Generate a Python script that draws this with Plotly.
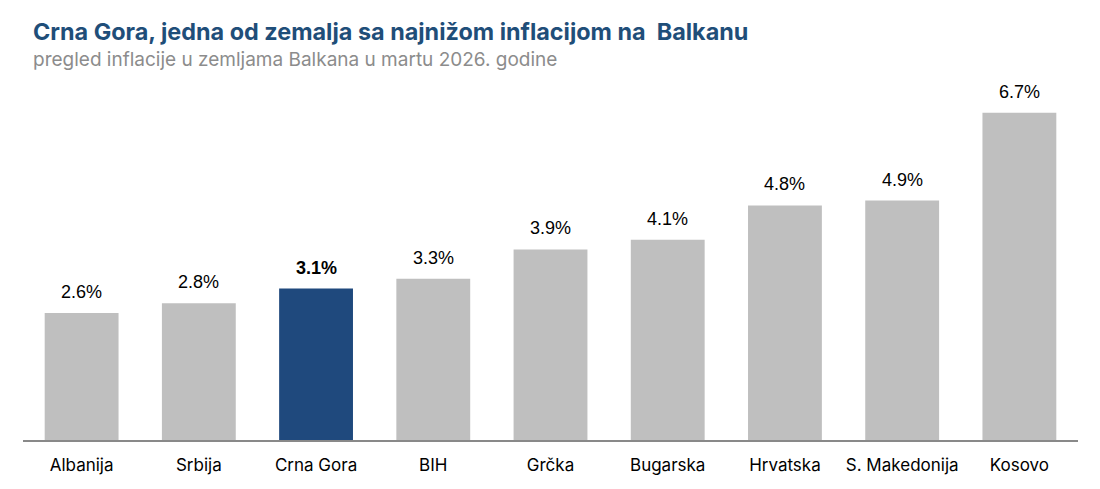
import plotly.graph_objects as go

countries = ["Albanija", "Srbija", "Crna Gora", "BIH", "Grčka", "Bugarska", "Hrvatska", "S. Makedonija", "Kosovo"]
inflation = [2.6, 2.8, 3.1, 3.3, 3.9, 4.1, 4.8, 4.9, 6.7]
highlight = "Crna Gora"
title_text = "Crna Gora, jedna od zemalja sa najnižom inflacijom na  Balkanu"
subtitle_text = "pregled inflacije u zemljama Balkana u martu 2026. godine"

GRAY = "#BFBFBF"
BLUE = "#1F497D"
colors = [BLUE if c == highlight else GRAY for c in countries]

fig = go.Figure()
fig.add_trace(go.Bar(x=countries, y=inflation, marker=dict(color=colors, line=dict(width=0)),
                     hoverinfo="skip"))

annotations = []
for c, v in zip(countries, inflation):
    txt = f"<b>{v:.1f}%</b>" if c == highlight else f"{v:.1f}%"
    annotations.append(dict(x=c, y=v, xref="x", yref="y", text=txt, showarrow=False,
                            xanchor="center", yanchor="bottom", yshift=9,
                            font=dict(family="Liberation Sans, Arial", size=18, color="#000000")))

# Title and subtitle, placed in paper coordinates above the plot area
plot_h = 489 - 98 - 49
def ypix(py):
    return (489 - 49 - py) / plot_h
def xpix(px):
    return (px - 23) / (1100 - 23 - 22)

annotations.append(dict(x=xpix(31), y=ypix(31), xref="paper", yref="paper",
                        xanchor="left", yanchor="middle", showarrow=False,
                        text=f"<b>{title_text}</b>",
                        font=dict(family="Inter, Liberation Sans", size=23.4, color="#1F4E79")))
annotations.append(dict(x=xpix(31), y=ypix(60), xref="paper", yref="paper",
                        xanchor="left", yanchor="middle", showarrow=False,
                        text=subtitle_text,
                        font=dict(family="Inter, Liberation Sans", size=19, color="#8C8C8C")))

fig.update_layout(
    width=1100, height=489,
    margin=dict(l=23, r=22, t=98, b=49),
    paper_bgcolor="white", plot_bgcolor="white",
    bargap=0.37,
    showlegend=False,
    xaxis=dict(showgrid=False, showline=True, linecolor="#898989", linewidth=2,
               ticks="", tickfont=dict(family="Inter, Liberation Sans", size=17, color="#000000"),
               ticklabelstandoff=9),
    yaxis=dict(range=[0, 7.0], visible=False, showgrid=False, zeroline=False),
    annotations=annotations,
)

fig.write_html("out.html")
